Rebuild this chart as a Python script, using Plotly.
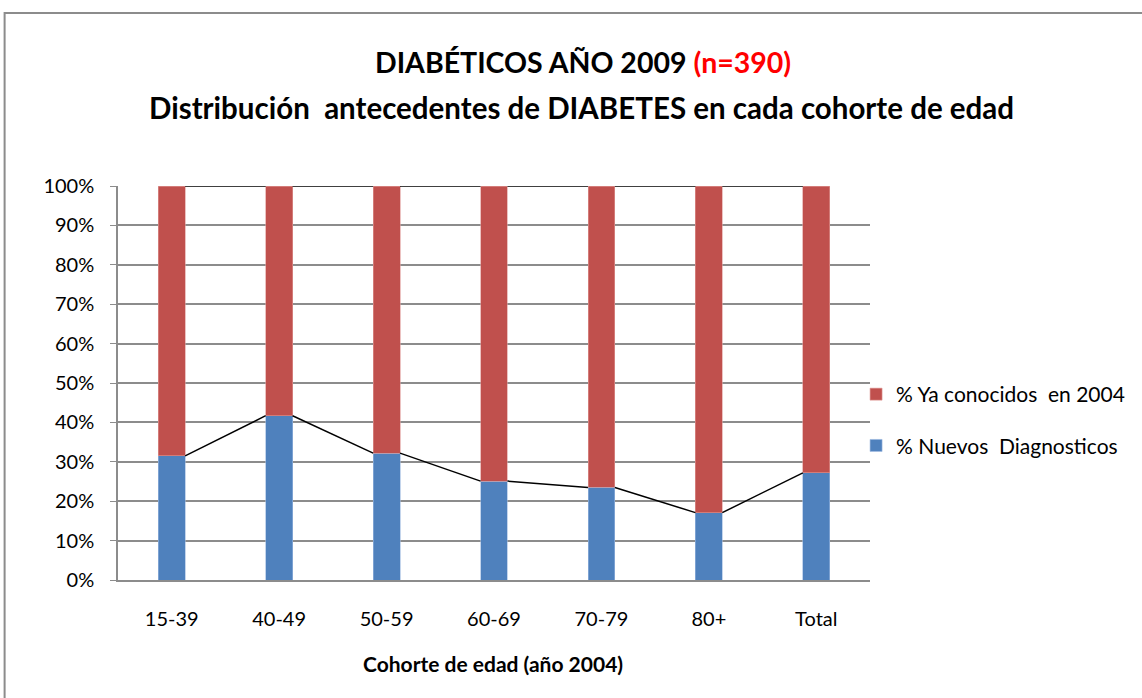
import plotly.graph_objects as go

categories = ["15-39", "40-49", "50-59", "60-69", "70-79", "80+", "Total"]
nuevos = [31.5, 41.7, 32.2, 25.1, 23.5, 17.1, 27.2]
conocidos = [round(100 - v, 1) for v in nuevos]
ytick_vals = list(range(0, 101, 10))
ytick_text = [f"{v}%" for v in ytick_vals]

FONT = "Lato"
BLUE = "#4F81BD"
RED = "#C0504D"
GRID = "#8C8C8C"
W = 0.25

xs = list(range(len(categories)))

fig = go.Figure()
fig.add_trace(go.Bar(x=xs, y=nuevos, width=W, name="% Nuevos  Diagnosticos",
                     marker=dict(color=BLUE, line=dict(color="#9DB9E0", width=0.6)),
                     legendgroup="g2", legendrank=2))
fig.add_trace(go.Bar(x=xs, y=conocidos, width=W, name="% Ya conocidos  en 2004",
                     marker=dict(color=RED, line=dict(color="#E09A98", width=0.6)),
                     legendgroup="g1", legendrank=1))

# series lines between bar edges
def series_line(tops):
    lx, ly = [], []
    for i in range(len(tops) - 1):
        lx += [xs[i] + W / 2, xs[i + 1] - W / 2, None]
        ly += [tops[i], tops[i + 1], None]
    return lx, ly

lx, ly = series_line(nuevos)
fig.add_trace(go.Scatter(x=lx, y=ly, mode="lines", line=dict(color="black", width=1.5),
                         showlegend=False, hoverinfo="skip"))
tot = [a + b for a, b in zip(nuevos, conocidos)]
lx2, ly2 = series_line(tot)
fig.add_trace(go.Scatter(x=lx2, y=ly2, mode="lines", line=dict(color="black", width=1.3),
                         showlegend=False, hoverinfo="skip"))

fig.update_layout(
    width=1142, height=698,
    barmode="stack",
    paper_bgcolor="white", plot_bgcolor="white",
    margin=dict(l=118, r=268, t=186, b=118),
    font=dict(family=FONT, size=20, color="black"),
    showlegend=True,
    legend=dict(x=(860 - 118) / 756, xanchor="left", y=(580 - 420) / 394, yanchor="middle",
                traceorder="grouped", tracegroupgap=21,
                font=dict(family=FONT, size=21, color="black"),
                bgcolor="rgba(0,0,0,0)"),
    xaxis=dict(range=[-0.5, 6.5], tickmode="array", tickvals=xs, ticktext=categories,
               showgrid=False, showline=True, linecolor=GRID, linewidth=2,
               ticks="", ticklabelstandoff=20, zeroline=False,
               tickfont=dict(family=FONT, size=20)),
    yaxis=dict(range=[0, 100], tickmode="array", tickvals=ytick_vals, ticktext=ytick_text,
               showgrid=True, gridcolor=GRID, gridwidth=1.5,
               showline=True, linecolor=GRID, linewidth=1.5,
               ticks="outside", ticklen=6, tickcolor=GRID, ticklabelstandoff=12,
               zeroline=False, tickfont=dict(family=FONT, size=20)),
    annotations=[
        dict(text="<b>DIABÉTICOS AÑO 2009 <span style='color:#FF0000'>(n=390)</span></b>",
             xref="paper", yref="paper", x=(585 - 118) / 756, y=(580 - 62) / 394,
             xanchor="center", yanchor="middle", showarrow=False,
             font=dict(family=FONT, size=28.5, color="black")),
        dict(text="<b>Distribución  antecedentes de DIABETES en cada cohorte de edad</b>",
             xref="paper", yref="paper", x=(584 - 118) / 756, y=(580 - 108) / 394,
             xanchor="center", yanchor="middle", showarrow=False,
             font=dict(family=FONT, size=29.5, color="black")),
        dict(text="<b>Cohorte de edad (año 2004)</b>",
             xref="paper", yref="paper", x=(495 - 118) / 756, y=(580 - 663) / 394,
             xanchor="center", yanchor="middle", showarrow=False,
             font=dict(family=FONT, size=21, color="black")),
    ],
    shapes=[dict(type="rect", xref="paper", yref="paper",
                 x0=(4 - 118) / 756, x1=(1200 - 118) / 756,
                 y0=(580 - 760) / 394, y1=(580 - 13) / 394,
                 line=dict(color="#8C8C8C", width=2), fillcolor="rgba(0,0,0,0)", layer="below")],
)

fig.write_html("out.html", config={"displayModeBar": False},
               post_script="document.body.style.margin='0px';")
